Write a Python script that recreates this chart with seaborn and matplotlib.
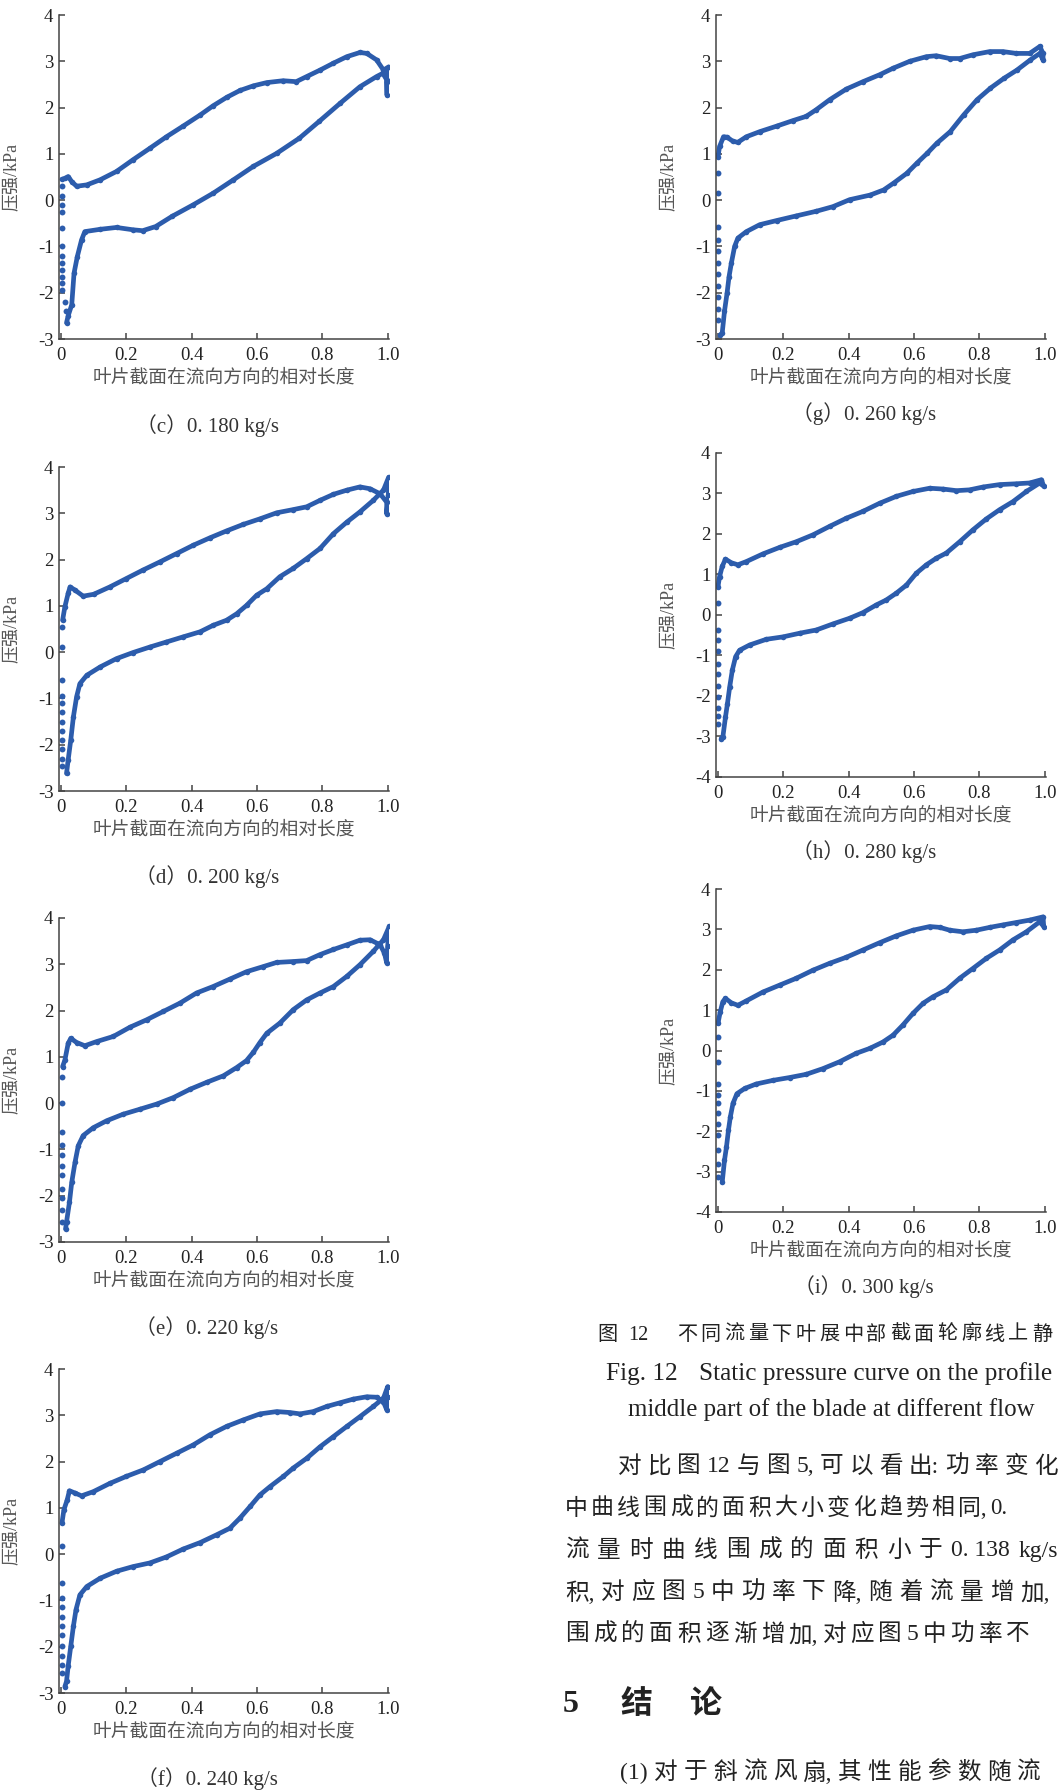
import matplotlib
matplotlib.use("Agg")
import matplotlib.pyplot as plt
import seaborn as sns

# 叶片截面静压分布 (各流量)
c_x = [0.003, 0.012, 0.022, 0.033, 0.048, 0.079, 0.12, 0.17, 0.22, 0.272, 0.323, 0.374, 0.426, 0.466,
       0.507, 0.548, 0.589, 0.63, 0.68, 0.72, 0.752, 0.793, 0.834, 0.875, 0.915, 0.936, 0.966, 0.987,
       1.003, 0.998, 0.998, 0.997,
       0.985, 0.966, 0.915, 0.854, 0.79, 0.73, 0.66, 0.589, 0.528, 0.466, 0.405, 0.34, 0.29, 0.25,
       0.22, 0.17, 0.12, 0.073, 0.063, 0.05, 0.04, 0.033, 0.022, 0.017]
c_y = [0.45, 0.47, 0.51, 0.40, 0.30, 0.33, 0.44, 0.62, 0.87, 1.12, 1.37, 1.60, 1.84, 2.04,
       2.22, 2.37, 2.47, 2.54, 2.58, 2.56, 2.67, 2.81, 2.96, 3.10, 3.19, 3.17, 3.03, 2.81,
       2.88, 2.55, 2.27, 2.60,
       2.74, 2.67, 2.45, 2.09, 1.70, 1.34, 1.01, 0.73, 0.44, 0.15, -0.10, -0.35, -0.57, -0.66,
       -0.64, -0.59, -0.63, -0.68, -0.86, -1.22, -1.58, -2.26, -2.50, -2.65]
c_le_x = [0.004, 0.004, 0.004, 0.004, 0.004, 0.004, 0.004, 0.004, 0.004, 0.004, 0.004, 0.004, 0.012, 0.014]
c_le_y = [0.30, 0.10, -0.10, -0.25, -0.60, -1.00, -1.20, -1.35, -1.50, -1.65, -1.80, -1.95, -2.20, -2.40]

d_x = [0.005, 0.012, 0.022, 0.028, 0.043, 0.068, 0.10, 0.15, 0.20, 0.25, 0.303, 0.354, 0.405, 0.456,
       0.507, 0.558, 0.609, 0.66, 0.711, 0.752, 0.793, 0.834, 0.875, 0.915, 0.946, 0.977, 0.997,
       0.997, 1.002, 1.003,
       0.987, 0.956, 0.915, 0.875, 0.834, 0.793, 0.752, 0.711, 0.67, 0.63, 0.599, 0.568, 0.538, 0.507,
       0.466, 0.426, 0.374, 0.323, 0.272, 0.22, 0.17, 0.12, 0.079, 0.058, 0.048, 0.038, 0.03, 0.022, 0.017]
d_y = [0.69, 0.98, 1.27, 1.41, 1.34, 1.21, 1.25, 1.41, 1.59, 1.77, 1.95, 2.13, 2.31, 2.47,
       2.62, 2.76, 2.88, 3.01, 3.08, 3.14, 3.28, 3.41, 3.50, 3.57, 3.53, 3.42, 3.24,
       2.99, 3.40, 3.78,
       3.50, 3.28, 3.03, 2.81, 2.56, 2.24, 2.02, 1.81, 1.63, 1.37, 1.23, 1.01, 0.83, 0.69,
       0.58, 0.44, 0.33, 0.22, 0.11, -0.01, -0.14, -0.32, -0.50, -0.68, -0.96, -1.40, -1.90, -2.33, -2.62]
d_le_x = [0.004] * 12
d_le_y = [0.55, 0.12, -0.60, -0.95, -1.10, -1.30, -1.50, -1.70, -1.90, -2.10, -2.30, -2.47]

e_x = [0.005, 0.012, 0.022, 0.03, 0.048, 0.073, 0.109, 0.16, 0.211, 0.262, 0.313, 0.364, 0.415, 0.466,
       0.517, 0.568, 0.619, 0.66, 0.711, 0.752, 0.793, 0.834, 0.875, 0.915, 0.946, 0.977, 0.99,
       0.997, 1.0, 1.005,
       0.987, 0.956, 0.915, 0.875, 0.834, 0.793, 0.752, 0.711, 0.67, 0.63, 0.609, 0.589, 0.568, 0.538,
       0.497, 0.446, 0.395, 0.344, 0.293, 0.242, 0.19, 0.14, 0.099, 0.068, 0.053, 0.043, 0.033, 0.026,
       0.017, 0.014]
e_y = [0.79, 0.93, 1.29, 1.40, 1.31, 1.24, 1.33, 1.44, 1.64, 1.80, 1.98, 2.16, 2.38, 2.52,
       2.68, 2.84, 2.95, 3.04, 3.06, 3.08, 3.21, 3.32, 3.42, 3.52, 3.53, 3.42, 3.24,
       3.03, 3.40, 3.82,
       3.53, 3.28, 2.99, 2.74, 2.52, 2.38, 2.23, 2.02, 1.73, 1.51, 1.31, 1.10, 0.92, 0.77,
       0.59, 0.45, 0.30, 0.12, -0.02, -0.13, -0.24, -0.38, -0.53, -0.70, -0.92, -1.28, -1.71, -2.14,
       -2.57, -2.72]
e_le_x = [0.004] * 11
e_le_y = [0.57, 0.0, -0.62, -0.90, -1.13, -1.35, -1.55, -1.85, -2.05, -2.30, -2.57]

f_x = [0.003, 0.009, 0.019, 0.026, 0.043, 0.063, 0.099, 0.15, 0.20, 0.252, 0.303, 0.354, 0.405, 0.456,
       0.507, 0.558, 0.609, 0.66, 0.70, 0.732, 0.772, 0.813, 0.854, 0.895, 0.936, 0.966, 0.987, 0.997,
       1.0, 1.0,
       0.987, 0.956, 0.915, 0.875, 0.834, 0.793, 0.752, 0.711, 0.681, 0.64, 0.609, 0.579, 0.548, 0.517,
       0.477, 0.426, 0.374, 0.323, 0.272, 0.22, 0.17, 0.12, 0.079, 0.058, 0.046, 0.038, 0.03, 0.022,
       0.017, 0.012]
f_y = [0.67, 0.96, 1.17, 1.37, 1.32, 1.26, 1.35, 1.53, 1.68, 1.82, 2.00, 2.18, 2.36, 2.58,
       2.76, 2.90, 3.03, 3.08, 3.06, 3.03, 3.08, 3.19, 3.27, 3.35, 3.40, 3.39, 3.29, 3.12,
       3.40, 3.62,
       3.37, 3.19, 2.97, 2.76, 2.54, 2.32, 2.07, 1.86, 1.68, 1.46, 1.28, 1.03, 0.78, 0.56,
       0.42, 0.25, 0.11, -0.06, -0.19, -0.27, -0.37, -0.52, -0.70, -0.88, -1.20, -1.56, -1.99, -2.42,
       -2.75, -2.86]
f_le_x = [0.003] * 11
f_le_y = [0.17, -0.63, -0.95, -1.15, -1.35, -1.55, -1.75, -1.99, -2.20, -2.40, -2.57]

g_x = [0.0, 0.005, 0.017, 0.028, 0.046, 0.061, 0.087, 0.128, 0.18, 0.23, 0.27, 0.30, 0.342, 0.393,
       0.444, 0.495, 0.536, 0.587, 0.638, 0.668, 0.709, 0.74, 0.78, 0.832, 0.872, 0.913, 0.954, 0.985,
       0.995, 0.995,
       0.985, 0.956, 0.915, 0.875, 0.834, 0.793, 0.752, 0.711, 0.67, 0.64, 0.609, 0.578, 0.538, 0.507,
       0.466, 0.403, 0.352, 0.301, 0.24, 0.18, 0.128, 0.087, 0.061, 0.051, 0.041, 0.034, 0.028, 0.02,
       0.013, 0.007]
g_y = [0.94, 1.16, 1.37, 1.36, 1.27, 1.25, 1.37, 1.48, 1.60, 1.72, 1.81, 1.95, 2.17, 2.40,
       2.56, 2.71, 2.85, 3.00, 3.10, 3.12, 3.06, 3.06, 3.14, 3.21, 3.21, 3.17, 3.17, 3.32,
       3.17, 3.03,
       3.17, 3.03, 2.81, 2.63, 2.42, 2.17, 1.84, 1.48, 1.23, 1.01, 0.80, 0.58, 0.37, 0.22,
       0.11, 0.01, -0.14, -0.24, -0.34, -0.44, -0.53, -0.68, -0.82, -1.00, -1.36, -1.65, -2.00, -2.40,
       -2.87, -2.91]
g_le_x = [0.001] * 11
g_le_y = [0.58, 0.15, -0.57, -0.86, -1.10, -1.35, -1.60, -1.86, -2.10, -2.35, -2.58]

h_x = [0.0, 0.005, 0.013, 0.023, 0.041, 0.061, 0.087, 0.138, 0.189, 0.24, 0.291, 0.342, 0.393, 0.444,
       0.495, 0.546, 0.597, 0.648, 0.689, 0.73, 0.77, 0.811, 0.862, 0.913, 0.954, 0.99, 0.997,
       0.985, 0.944, 0.903, 0.862, 0.821, 0.78, 0.74, 0.699, 0.668, 0.638, 0.607, 0.577, 0.546, 0.515,
       0.485, 0.444, 0.403, 0.352, 0.301, 0.25, 0.199, 0.148, 0.097, 0.066, 0.054, 0.044, 0.036, 0.029,
       0.023, 0.015, 0.01]
h_y = [0.70, 0.95, 1.20, 1.38, 1.29, 1.24, 1.32, 1.51, 1.67, 1.81, 1.98, 2.19, 2.39, 2.56,
       2.76, 2.93, 3.05, 3.13, 3.11, 3.07, 3.09, 3.16, 3.22, 3.24, 3.26, 3.34, 3.18,
       3.26, 3.05, 2.80, 2.60, 2.37, 2.10, 1.81, 1.53, 1.40, 1.24, 1.03, 0.74, 0.54, 0.37,
       0.25, 0.06, -0.08, -0.22, -0.37, -0.45, -0.54, -0.60, -0.74, -0.87, -1.03, -1.36, -1.77, -2.19,
       -2.52, -3.01, -3.05]
h_le_x = [0.001] * 11
h_le_y = [0.29, -0.37, -0.62, -0.90, -1.20, -1.45, -1.75, -2.02, -2.30, -2.50, -2.68]

i_x = [0.0, 0.007, 0.015, 0.023, 0.041, 0.061, 0.087, 0.138, 0.189, 0.24, 0.291, 0.342, 0.393, 0.444,
       0.495, 0.546, 0.597, 0.648, 0.679, 0.709, 0.75, 0.791, 0.832, 0.872, 0.913, 0.954, 0.995, 0.997,
       0.985, 0.944, 0.903, 0.862, 0.821, 0.78, 0.74, 0.699, 0.658, 0.628, 0.597, 0.566, 0.536, 0.505,
       0.464, 0.423, 0.372, 0.321, 0.27, 0.219, 0.168, 0.117, 0.082, 0.058, 0.046, 0.038, 0.032, 0.026,
       0.02, 0.013]
i_y = [0.67, 0.96, 1.21, 1.29, 1.18, 1.12, 1.23, 1.45, 1.62, 1.79, 1.99, 2.16, 2.31, 2.49,
       2.67, 2.84, 2.98, 3.07, 3.05, 2.98, 2.94, 2.98, 3.05, 3.11, 3.17, 3.23, 3.31, 3.07,
       3.19, 2.94, 2.74, 2.49, 2.28, 2.03, 1.79, 1.50, 1.33, 1.17, 0.92, 0.63, 0.38, 0.21,
       0.05, -0.07, -0.28, -0.45, -0.59, -0.67, -0.74, -0.83, -0.94, -1.07, -1.31, -1.64, -1.98, -2.39,
       -2.72, -3.26]
i_le_x = [0.001] * 11
i_le_y = [0.34, -0.28, -0.82, -1.10, -1.31, -1.55, -1.81, -2.10, -2.47, -2.80, -3.13]

flow_labels = ["（c）0. 180 kg/s", "（d）0. 200 kg/s", "（e）0. 220 kg/s", "（f）0. 240 kg/s",
               "（g）0. 260 kg/s", "（h）0. 280 kg/s", "（i）0. 300 kg/s"]
y_min = [-3, -3, -3, -3, -3, -4, -4]
x_ticks = [0, 0.2, 0.4, 0.6, 0.8, 1.0]
x_ticklabels = ["0", "0.2", "0.4", "0.6", "0.8", "1.0"]

BLUE = "#2c5cac"
TXT = "#222222"
W, H = 1061, 1791

sns.set_style("ticks")
plt.rcParams['font.family'] = ['Liberation Serif', 'Noto Sans CJK SC']
plt.rcParams['axes.unicode_minus'] = False

fig = plt.figure(figsize=(W / 100, H / 100), dpi=100)
rend = fig.canvas.get_renderer()

# 各子图位置 (像素: left, top, width, height) 与图注距离
panels = [
    (c_x, c_y, c_le_x, c_le_y, (59, 15, 330, 324), 87),
    (d_x, d_y, d_le_x, d_le_y, (59, 467, 330, 324), 86),
    (e_x, e_y, e_le_x, e_le_y, (59, 918, 330, 324), 86),
    (f_x, f_y, f_le_x, f_le_y, (59, 1369, 330, 324), 86),
    (g_x, g_y, g_le_x, g_le_y, (716, 15, 330, 324), 75),
    (h_x, h_y, h_le_x, h_le_y, (716, 453, 330, 324), 75),
    (i_x, i_y, i_le_x, i_le_y, (716, 889, 330, 323), 75),
]

for k, (x, y, lx, ly, (l, t, w, h), cap) in enumerate(panels):
    ax = fig.add_axes([l / W, 1 - (t + h) / H, w / W, h / H])
    sns.lineplot(x=x, y=y, sort=False, estimator=None, ax=ax, color=BLUE,
                 linewidth=3.4, marker="o", markersize=4, markeredgewidth=0)
    sns.scatterplot(x=lx, y=ly, ax=ax, color=BLUE, s=18, linewidth=0)

    ax.set_xlim(-0.006, 1.004)
    ax.set_ylim(y_min[k], 4)
    ax.set_xticks(x_ticks, x_ticklabels)
    yt = list(range(y_min[k], 5))
    ax.set_yticks(yt, [str(v) for v in yt])
    sns.despine(ax=ax)
    for s in ["left", "bottom"]:
        ax.spines[s].set_color("#444444")
        ax.spines[s].set_linewidth(1.1)
    ax.tick_params(direction="in", length=4.5, width=1.1, colors="#444444",
                   labelsize=13.5, labelcolor=TXT)
    ax.tick_params(axis="x", pad=6)
    ax.tick_params(axis="y", pad=4)

    ax.set_xlabel("叶片截面在流向方向的相对长度", fontsize=13.5, color="#555555")
    ax.xaxis.set_label_coords(0.5, -30 / h)
    ax.set_ylabel("压强/kPa", fontsize=13, color="#555555")
    ax.yaxis.set_label_coords(-0.118, 0.5)
    ax.text(0.5 - 17 / w, -cap / h, flow_labels[k], transform=ax.transAxes, ha="center",
            va="center", fontsize=15, color="#333333")


# 右下正文: 两端对齐的行
def jline(py, x0, x1, tokens, size, **kw):
    ts = [fig.text(0, 1 - py / H, tok, fontsize=size, ha="left", va="center", color=TXT, **kw)
          for tok in tokens]
    ws = [t.get_window_extent(rend).width for t in ts]
    gap = (x1 - x0 - sum(ws)) / max(len(ts) - 1, 1)
    xx = x0
    for t, wd in zip(ts, ws):
        t.set_x(xx / W)
        xx += wd + gap


def fline(py, x0, x1, s):
    t = fig.text(x0 / W, 1 - py / H, s, fontsize=10, ha="left", va="center", color=TXT)
    wd = t.get_window_extent(rend).width
    t.set_fontsize(10 * (x1 - x0) / wd)
    return t.get_fontsize()


jline(1335, 597, 648, ["图", "12"], 14.5)
jline(1335, 677, 1052, list("不同流量下叶展中部截面轮廓线上静"), 14.5)
fs = fline(1374, 699, 1052, "Static pressure curve on the profile")
fig.text(606 / W, 1 - 1374 / H, "Fig. 12", fontsize=fs, ha="left", va="center", color=TXT)
fline(1410, 628, 1033, "middle part of the blade at different flow")

jline(1467, 618, 1058, ["对", "比", "图", "12", "与", "图", "5,", "可", "以", "看", "出:",
                        "功", "率", "变", "化"], 17)
jline(1509, 565, 1007, list("中曲线围成的面积大小变化趋势相") + ["同,", "0."], 16.5)
jline(1551, 565, 1058, list("流量时曲线围成的面积小于") + ["0. 138", "kg/s"], 17)
jline(1593, 565, 1050, ["积,", "对", "应", "图", "5", "中", "功", "率", "下", "降,", "随",
                        "着", "流", "量", "增", "加,"], 17)
jline(1635, 565, 1030, ["围", "成", "的", "面", "积", "逐", "渐", "增", "加,", "对", "应",
                        "图", "5", "中", "功", "率", "不"], 17)
for px, s in [(563, "5"), (620, "结"), (690, "论")]:
    fig.text(px / W, 1 - 1705 / H, s, fontsize=23, fontweight="bold", ha="left", va="center", color=TXT)
jline(1773, 620, 1040, ["(1)"] + list("对于斜流风") + ["扇,"] + list("其性能参数随流"), 17)

fig.savefig("out.png", dpi=100)
